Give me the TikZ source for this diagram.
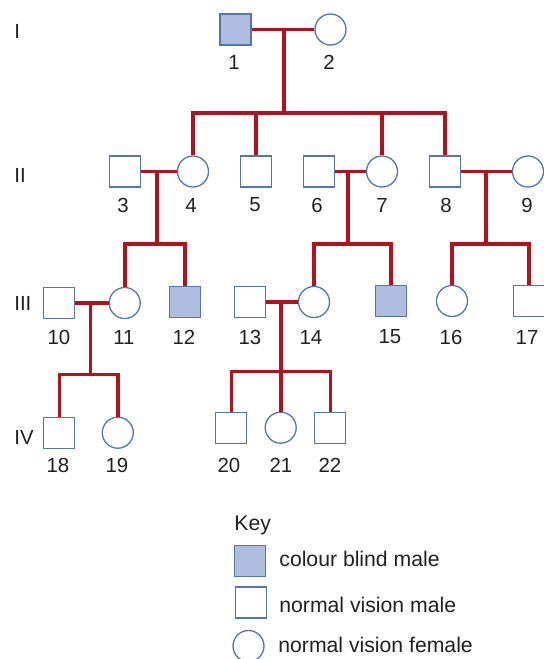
\documentclass[tikz,border=0pt]{standalone}
\usepackage{fontspec}
\setmainfont{Liberation Sans}
\usetikzlibrary{calc, positioning}
\definecolor{kinred}{HTML}{B3121C}
\definecolor{symblue}{HTML}{5575AD}
\definecolor{cbfill}{HTML}{AEBDE0}
\definecolor{inkgrey}{HTML}{231F20}
\tikzset{
  male/.style={draw=symblue, line width=0.65pt, fill=white, minimum size=15.5pt, inner sep=0pt},
  female/.style={male, circle},
  cblind/.style={male, fill=cbfill},
  kin/.style={kinred, line width=1.8pt},
  num/.style={text=inkgrey, inner sep=0pt, font=\fontsize{10.2}{12}\selectfont},
  keytext/.style={text=inkgrey, inner sep=0pt, anchor=base west, font=\fontsize{10.6}{12}\selectfont}
}

\begin{document}
\begin{tikzpicture}[x=0.5pt,y=-0.5pt]
\useasboundingbox (0,0) rectangle (544,659);
\def\rowone{29.5}
\def\rowtwo{171.5}
\def\rowthree{302}
\def\rowfour{432.7}

\node[cblind] (p1) at (235.5,\rowone) {};
\node[female] (p2) at (330.5,\rowone) {};

\node[male] (p3) at (125,\rowtwo) {};
\node[female] (p4) at (193,\rowtwo) {};
\node[male] (p5) at (256,\rowtwo) {};
\node[male] (p6) at (319,\rowtwo) {};
\node[female] (p7) at (382,\rowtwo) {};
\node[male] (p8) at (445,\rowtwo) {};
\node[female] (p9) at (528,\rowtwo) {};

\node[male] (p10) at (58.8,303) {};
\node[female] (p11) at (124.7,303) {};
\node[cblind] (p12) at (184.8,302) {};
\node[male] (p13) at (249.8,\rowthree) {};
\node[female] (p14) at (314,\rowthree) {};
\node[cblind] (p15) at (390.7,301) {};
\node[female] (p16) at (452,301) {};
\node[male] (p17) at (529,301) {};

\node[male] (p18) at (59.3,\rowfour) {};
\node[female] (p19) at (117.8,\rowfour) {};
\node[male] (p20) at (231.3,427.7) {};
\node[female] (p21) at (280.7,427.7) {};
\node[male] (p22) at (330.3,427.7) {};

\coordinate (m12) at (283.7,\rowone);
\coordinate (s12) at (283.7,113);
\coordinate (m34) at (156.7,\rowtwo);
\coordinate (s34) at (156.7,243.7);
\coordinate (m67) at (347.7,\rowtwo);
\coordinate (s67) at (347.7,243.7);
\coordinate (m89) at (486,\rowtwo);
\coordinate (s89) at (486,243.7);
\coordinate (m1011) at (90.3,303);
\coordinate (s1011) at (90.3,374.3);
\coordinate (m1314) at (280.7,\rowthree);
\coordinate (s1314) at (280.7,371.3);

\draw[kin] (p1) -- (p2);
\draw[kin] (m12) -- (s12);
\draw[kin] (p4.north) |- (s12) -| (p8.north);
\draw[kin] (p5.north) -- (p5.north |- s12);
\draw[kin] (p7.north) -- (p7.north |- s12);

\draw[kin] (p3) -- (p4);
\draw[kin] (m34) -- (s34);
\draw[kin] (p11.north) |- (s34) -| (p12.north);
\draw[kin] (p6) -- (p7);
\draw[kin] (m67) -- (s67);
\draw[kin] (p14.north) |- (s67) -| (p15.north);
\draw[kin] (p8) -- (p9);
\draw[kin] (m89) -- (s89);
\draw[kin] (p16.north) |- (s89) -| (p17.north);

\draw[kin] (p10) -- (p11);
\draw[kin] (m1011) -- (s1011);
\draw[kin] (p18.north) |- (s1011) -| (p19.north);
\draw[kin] (p13) -- (p14);
\draw[kin] (m1314) -- (p21.north);
\draw[kin] (p20.north) |- (s1314) -| (p22.north);

\foreach \n/\x/\y in {1/234/62, 2/329/62,
    3/123/205, 4/191/205, 5/255/205, 6/317/205, 7/382/205, 8/446/205, 9/527/205,
    10/59/337, 11/124/337, 12/184/337, 13/250/337, 14/311/337, 15/390/337, 16/451/337, 17/527/337,
    18/58/465, 19/117/465, 20/229/465, 21/281/465, 22/330/465}
  \node[num] (l\n) at (\x,\y) {\n};

\node[num, anchor=west] (g1) at (14,31) {I};
\node[num, anchor=west] (g2) at (14,175) {II};
\node[num, anchor=west] (g3) at (14,303) {III};
\node[num, anchor=west] (g4) at (14,437) {IV};

\node[keytext] (keyhead) at (234,530.7) {Key};
\node[cblind] (k1) at (250.3,561.2) {};
\node[keytext] (k1t) at (279,566.7) {colour blind male};
\node[male] (k2) at (251.3,602.5) {};
\node[keytext] (k2t) at (279,612.7) {normal vision male};
\node[female] (k3) at (248.5,646) {};
\node[keytext] (k3t) at (278,652.7) {normal vision female};
\end{tikzpicture}
\end{document}
